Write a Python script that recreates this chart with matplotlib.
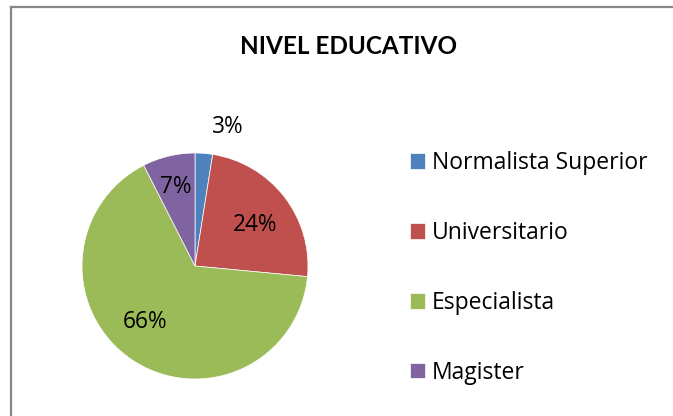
import matplotlib
matplotlib.use("Agg")
import matplotlib.pyplot as plt
from matplotlib.lines import Line2D

categories = ["Normalista Superior", "Universitario", "Especialista", "Magister"]
values = [2.5, 24, 66, 7.5]
pct_labels = ["3%", "24%", "66%", "7%"]
colors = ["#4F81BD", "#C0504D", "#9BBB59", "#8064A2"]
title = "NIVEL EDUCATIVO"

plt.rcParams['font.family'] = ['Open Sans', 'DejaVu Sans']

W, H = 673, 416
fig = plt.figure(figsize=(W / 100, H / 100), dpi=100)
fig.patch.set_facecolor("white")

# border (top and left visible)
fig.add_artist(Line2D([11 / W, 11 / W], [0, 1 - 7 / H], transform=fig.transFigure,
                      color="#878787", lw=1.6))
fig.add_artist(Line2D([11 / W, 1], [1 - 7 / H, 1 - 7 / H], transform=fig.transFigure,
                      color="#878787", lw=1.6))

cx, cy, r = 195, 266, 113
ax = fig.add_axes([(cx - r) / W, (H - cy - r) / H, 2 * r / W, 2 * r / H])
wedges, texts = ax.pie(values, colors=colors, startangle=90, counterclock=False,
                       radius=1, labels=pct_labels, labeldistance=0.6,
                       wedgeprops=dict(edgecolor="white", linewidth=0.5),
                       textprops=dict(fontsize=16.3, color="black"))
ax.set_xlim(-1, 1)
ax.set_ylim(-1, 1)
ax.set_aspect("equal")
ax.axis("off")

label_pos = [(0.29, 1.23), (0.53, 0.36), (-0.44, -0.50), (-0.17, 0.70)]
for t, p in zip(texts, label_pos):
    t.set_position(p)
    t.set_ha("center")
    t.set_va("center")
    t.set_clip_on(False)

fig.text(348 / W, 1 - 47 / H, title, ha="center", va="center",
         fontsize=17.5, fontweight="bold", family=["Lato", "DejaVu Sans"])

fig.legend(wedges, categories, loc="upper left",
           bbox_to_anchor=(401 / W, 1 - 142 / H), frameon=False,
           fontsize=16.5, handlelength=0.66, handleheight=0.66,
           handletextpad=0.3, labelspacing=2.0, borderaxespad=0)

fig.savefig("out.png", dpi=100)
